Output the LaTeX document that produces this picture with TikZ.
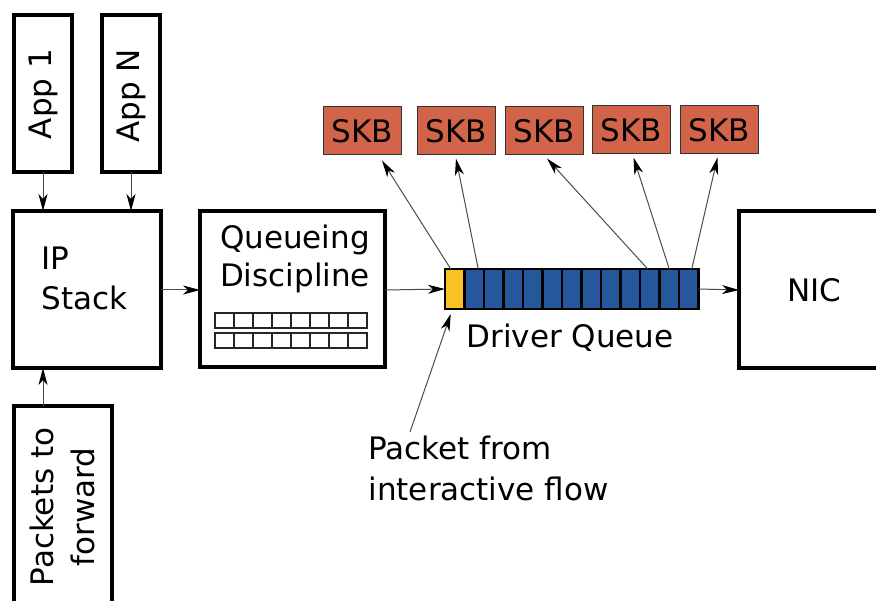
\documentclass[tikz,border=0pt]{standalone}
\usepackage{fontspec}
\setmainfont{DejaVu Sans}
\usetikzlibrary{arrows.meta,calc}
\definecolor{skbred}{HTML}{D2644A}
\definecolor{qblue}{HTML}{25589A}
\definecolor{qyellow}{HTML}{F8C322}
\begin{document}
\begin{tikzpicture}[x=1pt,y=-1pt,
  box/.style={draw=black,line width=3.2pt,fill=white},
  txt/.style={font=\fontsize{31}{39}\selectfont},
  skb/.style={draw=black!80,line width=1pt,fill=skbred,minimum width=78pt,minimum height=48pt,inner sep=0pt,font=\fontsize{31}{34}\selectfont},
  cell/.style={draw=black,line width=2.2pt,minimum width=19.5pt,minimum height=40pt,inner sep=0pt,outer sep=0pt,fill=qblue},
  mini/.style={draw=black!85,line width=1.6pt,minimum width=19pt,minimum height=15pt,inner sep=0pt,outer sep=0pt},
  link/.style={draw=black!70,line width=1pt,-{Stealth[length=17pt,width=9pt,inset=5pt,black]}},
]
\useasboundingbox[fill=white] (0,0) rectangle (876,601);

% applications and forwarded traffic
\draw[box] (14,15) rectangle (72,172);
\node[txt,rotate=90] (app1) at (43,94) {App 1};
\coordinate (app1b) at (43,172);
\draw[box] (102,15) rectangle (160,172);
\node[txt,rotate=90] (appn) at (131,96) {App N};
\coordinate (appnb) at (131,172);

\draw[box,line width=3.6pt] (14,406) rectangle (112,620);
\node[txt,rotate=90,align=center,font=\fontsize{31}{41}\selectfont] (fwd) at (62,507) {Packets to\\forward};
\coordinate (fwdt) at (43,406);

% IP stack
\draw[box] (13,211) rectangle (161,368);
\node[txt,anchor=west,align=left,font=\fontsize{31}{40}\selectfont] (ip) at (38,278) {IP\\Stack};
\coordinate (ipt1) at (43,211);
\coordinate (ipt2) at (131,211);
\coordinate (ipb) at (43,368);
\coordinate (ipr) at (161,290);

% queueing discipline
\draw[box] (200,211) rectangle (385,367);
\node[txt,align=center,font=\fontsize{31}{38}\selectfont] (qd) at (295,259) {Queueing\\Discipline};
\coordinate (qdl) at (200,290);
\coordinate (qdr) at (385,290);
\foreach \r/\y in {1/320.5,2/340.5}{
  \foreach \i in {0,...,7}{
    \node[mini] (m\r\i) at ({224.5+19*\i},\y) {};
  }
}

% driver queue
\node[cell,fill=qyellow] (q0) at (454.75,289) {};
\foreach \i [remember=\i as \j (initially 0)] in {1,...,12}{
  \node[cell,anchor=west] (q\i) at (q\j.east) {};
}
\node[txt,anchor=north] (dq) at (570,320) {Driver Queue};

% NIC
\draw[box] (739,211) rectangle (890,368);
\node[txt] (nic) at (814,290) {NIC};
\coordinate (nicl) at (739,290);

% socket buffers
\node[skb] (s1) at (362,131) {SKB};
\node[skb] (s2) at (456,131) {SKB};
\node[skb] (s3) at (544,131) {SKB};
\node[skb] (s4) at (631.5,130) {SKB};
\node[skb] (s5) at (719.5,130) {SKB};

% annotation
\node[txt,anchor=west,align=left,font=\fontsize{31}{41}\selectfont] (pkt) at (365,468) {Packet from\\interactive flow};
\coordinate (pktt) at (410,432);

% connectors
\draw[link] (app1b) -- (ipt1);
\draw[link] (appnb) -- (ipt2);
\draw[link] (fwdt) -- (ipb);
\draw[link] (ipr) -- (qdl);
\draw[link] (qdr) -- (q0.west);
\draw[link] (q12.east) -- (nicl);
\draw[link] ($(q0.north)+(-4,0)$) -- ($(s1.south)+(20,5)$);
\draw[link] ($(q1.north)+(4,0)$) -- ($(s2.south)+(0,3)$);
\draw[link] ($(q10.north)+(-2,0)$) -- ($(s3.south)+(3,3)$);
\draw[link] (q11.north) -- ($(s4.south)+(2,3)$);
\draw[link] ($(q12.north)+(3,0)$) -- ($(s5.south)+(-2,3)$);
\draw[link] (pktt) -- ($(q0.south)+(-4,5)$);
\end{tikzpicture}
\end{document}
